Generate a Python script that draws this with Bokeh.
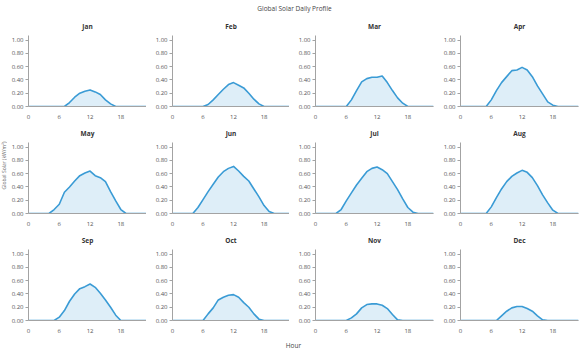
import math
from bokeh.plotting import figure
from bokeh.layouts import gridplot, column, row
from bokeh.models import Range1d, FixedTicker, NumeralTickFormatter, ColumnDataSource
from bokeh.core.properties import value
from bokeh.embed import file_html
from bokeh.resources import INLINE

hours = list(range(24))
months = ["Jan", "Feb", "Mar", "Apr", "May", "Jun",
          "Jul", "Aug", "Sep", "Oct", "Nov", "Dec"]

jan = [0, 0, 0, 0, 0, 0, 0, 0, 0.06, 0.14, 0.20, 0.23, 0.25, 0.22, 0.18, 0.10, 0.04, 0, 0, 0, 0, 0, 0, 0]
feb = [0, 0, 0, 0, 0, 0, 0, 0.03, 0.10, 0.18, 0.26, 0.33, 0.36, 0.32, 0.28, 0.20, 0.11, 0.04, 0, 0, 0, 0, 0, 0]
mar = [0, 0, 0, 0, 0, 0, 0, 0.10, 0.24, 0.37, 0.42, 0.44, 0.44, 0.46, 0.36, 0.24, 0.13, 0.05, 0, 0, 0, 0, 0, 0]
apr = [0, 0, 0, 0, 0, 0, 0.10, 0.24, 0.36, 0.45, 0.54, 0.55, 0.59, 0.55, 0.45, 0.31, 0.19, 0.07, 0.02, 0, 0, 0, 0, 0]
may = [0, 0, 0, 0, 0, 0.06, 0.14, 0.32, 0.40, 0.49, 0.57, 0.61, 0.64, 0.57, 0.54, 0.48, 0.33, 0.19, 0.06, 0, 0, 0, 0, 0]
jun = [0, 0, 0, 0, 0, 0.09, 0.21, 0.33, 0.44, 0.55, 0.63, 0.68, 0.71, 0.64, 0.56, 0.49, 0.37, 0.25, 0.12, 0.03, 0, 0, 0, 0]
jul = [0, 0, 0, 0, 0, 0.06, 0.19, 0.31, 0.43, 0.53, 0.63, 0.68, 0.70, 0.66, 0.60, 0.48, 0.36, 0.22, 0.09, 0.02, 0, 0, 0, 0]
aug = [0, 0, 0, 0, 0, 0, 0.10, 0.24, 0.37, 0.48, 0.56, 0.61, 0.65, 0.62, 0.54, 0.42, 0.28, 0.16, 0.05, 0, 0, 0, 0, 0]
sep = [0, 0, 0, 0, 0, 0, 0.05, 0.15, 0.29, 0.40, 0.48, 0.51, 0.55, 0.50, 0.41, 0.31, 0.20, 0.08, 0, 0, 0, 0, 0, 0]
oct_ = [0, 0, 0, 0, 0, 0, 0, 0.10, 0.19, 0.31, 0.35, 0.38, 0.39, 0.35, 0.27, 0.20, 0.10, 0.02, 0, 0, 0, 0, 0, 0]
nov = [0, 0, 0, 0, 0, 0, 0, 0.04, 0.10, 0.19, 0.24, 0.25, 0.25, 0.23, 0.18, 0.09, 0.01, 0, 0, 0, 0, 0, 0, 0]
dec = [0, 0, 0, 0, 0, 0, 0, 0, 0.07, 0.14, 0.19, 0.21, 0.21, 0.18, 0.14, 0.07, 0.01, 0, 0, 0, 0, 0, 0, 0]

series = [jan, feb, mar, apr, may, jun, jul, aug, sep, oct_, nov, dec]
x_ticks = [0, 6, 12, 18]
y_ticks = [0.0, 0.2, 0.4, 0.6, 0.8, 1.0]

main_title = "Global Solar Daily Profile"
x_label = "Hour"
y_label = "Global Solar (kW/m²)"

FONT = "Open Sans"
LINE = "#3a9bd5"
AXIS = "#a3a3a3"
TICKTXT = "#555555"

ylab_w = 7
col_widths = [139, 143, 145, 145]
col_left = [21, 26, 26, 26]
total_w = ylab_w + sum(col_widths)
row_h = 107

figs = []
for i, (m, vals) in enumerate(zip(months, series)):
    c = i % 4
    w = col_widths[c]
    lb = col_left[c]
    p = figure(width=w, height=row_h, output_backend="svg", toolbar_location=None,
               x_range=Range1d(0, 23), y_range=Range1d(0, 1.07),
               min_border_left=lb, min_border_right=max(0, w - lb - 118),
               min_border_top=20, min_border_bottom=15)
    p.outline_line_color = None
    p.grid.visible = False
    p.background_fill_color = "white"
    p.border_fill_color = "white"
    src = ColumnDataSource(dict(h=hours, v=vals, z=[0] * len(hours)))
    p.varea(x="h", y1="z", y2="v", source=src, fill_color=LINE, fill_alpha=0.17)
    p.line(x="h", y="v", source=src, line_color=LINE, line_width=1.6,
           line_join="round")
    p.title.text = m
    p.title.align = "center"
    p.title.text_font = FONT
    p.title.text_font_size = "6.5px"
    p.title.text_font_style = "bold"
    p.title.text_color = "#333333"
    p.title.standoff = 10

    p.xaxis.ticker = FixedTicker(ticks=x_ticks)
    p.yaxis.ticker = FixedTicker(ticks=y_ticks)
    p.yaxis.formatter = NumeralTickFormatter(format="0.00")
    for ax in (p.xaxis, p.yaxis):
        ax.axis_line_color = AXIS
        ax.major_tick_line_color = AXIS
        ax.minor_tick_line_color = None
        ax.major_label_text_font = FONT
        ax.major_label_text_font_size = "6px"
        ax.major_label_text_color = TICKTXT
    p.xaxis.major_tick_out = 0
    p.xaxis.major_tick_in = 0
    p.xaxis.major_label_standoff = 8
    p.yaxis.major_tick_out = 3
    p.yaxis.major_tick_in = 0
    p.yaxis.major_label_standoff = 2
    figs.append(p)

grid_rows = [figs[r * 4:(r + 1) * 4] for r in range(3)]
grid = gridplot(grid_rows, toolbar_location=None)

grid_h = 3 * row_h
ylab = figure(width=ylab_w, height=grid_h, output_backend="svg", toolbar_location=None,
              x_range=Range1d(0, ylab_w), y_range=Range1d(0, grid_h), min_border=0)
ylab.axis.visible = False
ylab.grid.visible = False
ylab.outline_line_color = None
ylab.text(x=[ylab_w / 2], y=[grid_h - 151], text=[y_label], angle=math.pi / 2,
          text_font=value(FONT), text_font_size="5px", text_color="#666666",
          text_align="center", text_baseline="middle")


def text_fig(h, txt, ypos, xpos):
    f = figure(width=total_w, height=h, output_backend="svg", toolbar_location=None,
               x_range=Range1d(0, total_w), y_range=Range1d(0, h),
               min_border=0)
    f.axis.visible = False
    f.grid.visible = False
    f.outline_line_color = None
    f.text(x=[xpos], y=[ypos], text=[txt], text_font=value(FONT),
           text_font_size="6.5px", text_color="#444444",
           text_align="center", text_baseline="middle")
    return f


top = text_fig(14, main_title, 6, 294)
bottom = text_fig(15, x_label, 5, 293)

layout = column(top, row(ylab, grid), bottom)
open("out.html", "w").write(file_html(layout, INLINE))
